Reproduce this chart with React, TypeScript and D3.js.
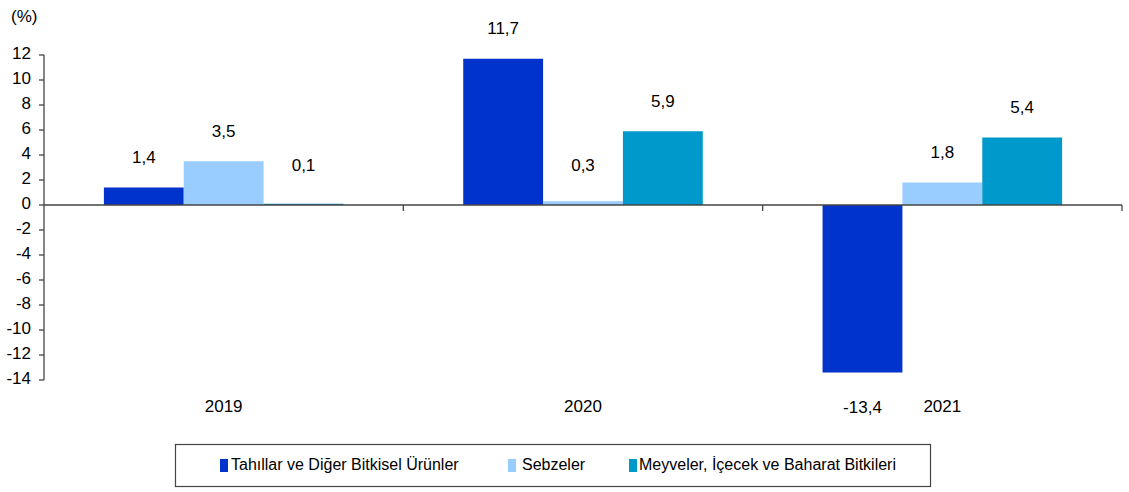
import { useRef, useEffect } from 'react'
import * as d3 from 'd3'

const years = ['2019', '2020', '2021']
const seriesNames = ['Tahıllar ve Diğer Bitkisel Ürünler', 'Sebzeler', 'Meyveler, İçecek ve Baharat Bitkileri']
const seriesColors = ['#0033CC', '#99CCFF', '#0099CC']
const tahillar = [1.4, 11.7, -13.4]
const sebzeler = [3.5, 0.3, 1.8]
const meyveler = [0.1, 5.9, 5.4]
const yTicks = [12, 10, 8, 6, 4, 2, 0, -2, -4, -6, -8, -10, -12, -14]

const FONT = "'Liberation Sans', Arial, sans-serif"

export default function App() {
  const svgRef = useRef<SVGSVGElement>(null)

  useEffect(() => {
    const svg = svgRef.current
    if (!svg) return
    const W = 1129
    const H = 492
    const sel = d3.select(svg)
    sel.selectAll('*').remove()

    const left = 44
    const right = 1122
    const x0 = d3.scaleBand().domain(years).range([left, right]).paddingInner(0).paddingOuter(0)
    const y = d3.scaleLinear().domain([-14, 12]).range([380, 55])
    const inner = d3
      .scaleBand<number>()
      .domain([0, 1, 2])
      .range([0, x0.bandwidth()])
      .paddingOuter(0.75)
      .paddingInner(0)

    const series = [tahillar, sebzeler, meyveler]
    const fmt = (v: number) => v.toFixed(1).replace('.', ',')

    // bars
    series.forEach((vals, si) => {
      vals.forEach((v, i) => {
        const bx = (x0(years[i]) as number) + (inner(si) as number)
        const top = Math.min(y(v), y(0))
        const h = Math.abs(y(v) - y(0))
        sel
          .append('rect')
          .attr('x', bx)
          .attr('y', top)
          .attr('width', inner.bandwidth())
          .attr('height', Math.max(h, 1))
          .attr('fill', seriesColors[si])
      })
    })

    // y axis
    sel.append('line').attr('x1', left).attr('x2', left).attr('y1', y(12)).attr('y2', y(-14)).attr('stroke', '#444').attr('stroke-width', 1.3)
    yTicks.forEach((t) => {
      sel.append('line').attr('x1', left - 5).attr('x2', left).attr('y1', y(t)).attr('y2', y(t)).attr('stroke', '#444').attr('stroke-width', 1.3)
      sel
        .append('text')
        .attr('x', left - 13)
        .attr('y', y(t))
        .attr('text-anchor', 'end')
        .attr('dominant-baseline', 'middle')
        .attr('font-family', FONT)
        .attr('font-size', 17)
        .attr('fill', '#000')
        .text(t)
    })

    // zero line with category ticks
    sel.append('line').attr('x1', left).attr('x2', right).attr('y1', y(0)).attr('y2', y(0)).attr('stroke', '#444').attr('stroke-width', 1.3)
    years.forEach((yr) => {
      const tx = (x0(yr) as number) + x0.bandwidth()
      sel.append('line').attr('x1', tx).attr('x2', tx).attr('y1', y(0)).attr('y2', y(0) + 6).attr('stroke', '#444').attr('stroke-width', 1.3)
      sel
        .append('text')
        .attr('x', (x0(yr) as number) + x0.bandwidth() / 2)
        .attr('y', 408)
        .attr('text-anchor', 'middle')
        .attr('dominant-baseline', 'middle')
        .attr('font-family', FONT)
        .attr('font-size', 17)
        .text(yr)
    })

    // value labels
    series.forEach((vals, si) => {
      vals.forEach((v, i) => {
        const cx = (x0(years[i]) as number) + (inner(si) as number) + inner.bandwidth() / 2
        const ly = v >= 0 ? Math.min(y(v) - 29, y(0) - 38) : y(v) + 36
        sel
          .append('text')
          .attr('x', cx)
          .attr('y', ly)
          .attr('text-anchor', 'middle')
          .attr('dominant-baseline', 'middle')
          .attr('font-family', FONT)
          .attr('font-size', 17)
          .text(fmt(v))
      })
    })

    // unit
    sel.append('text').attr('x', 11).attr('y', 18).attr('dominant-baseline', 'middle').attr('font-family', FONT).attr('font-size', 17).text('(%)')

    // legend
    sel.append('rect').attr('x', 175.5).attr('y', 444.5).attr('width', 755).attr('height', 42).attr('fill', '#fff').attr('stroke', '#444').attr('stroke-width', 1.2)
    const markerX = [220, 508, 629]
    const textX = [231, 522, 639]
    seriesNames.forEach((name, si) => {
      sel.append('rect').attr('x', markerX[si]).attr('y', 459).attr('width', 8).attr('height', 13).attr('fill', seriesColors[si])
      sel
        .append('text')
        .attr('x', textX[si])
        .attr('y', 466)
        .attr('dominant-baseline', 'middle')
        .attr('font-family', FONT)
        .attr('font-size', 16)
        .text(name)
    })

    sel.attr('width', W).attr('height', H)
  }, [])

  return (
    <svg
      ref={svgRef}
      width={1129}
      height={492}
      style={{ position: 'absolute', left: 0, top: 0, background: '#fff' }}
    />
  )
}
